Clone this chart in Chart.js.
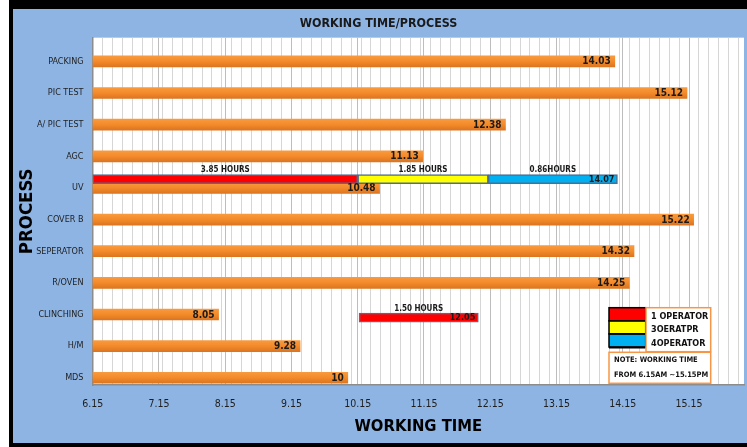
<!DOCTYPE html>
<html><head><meta charset="utf-8">
<script src="https://cdn.jsdelivr.net/npm/chart.js@4.4.1/dist/chart.umd.min.js"></script>
<style>
html,body{margin:0;padding:0;background:#fff;width:747px;height:447px;overflow:hidden}
#frame{position:absolute;left:9px;top:0px;width:738px;height:447px;background:#000}
#wrap{position:absolute;left:13px;top:9px;width:734px;height:434px;background:#8EB4E3}
</style></head><body>
<div id="frame"></div>
<div id="wrap"><canvas id="c"></canvas></div>
<script>
// ---------- data ----------
const categories = ['PACKING','PIC TEST','A/ PIC TEST','AGC','UV','COVER B','SEPERATOR','R/OVEN','CLINCHING','H/M','MDS'];
const workTime   = [14.03, 15.12, 12.38, 11.13, 10.48, 15.22, 14.32, 14.25, 8.05, 9.28, 10];
const xTickLabels = ['6.15','7.15','8.15','9.15','10.15','11.15','12.15','13.15','14.15','15.15'];

const opsRows    = ['UV', 'CLINCHING'];
const opsRowPos  = [3.72, 8.10];               // row position (category units)
const op1Span    = [[6.15, 10.15], [10.17, 11.97]];
const op3Span    = [[10.15, 12.12], null];
const op4Span    = [[12.12, 14.07], null];
const op1Hours   = ['3.85 HOURS', '1.50 HOURS'];
const op3Hours   = ['1.85 HOURS', null];
const op4Hours   = ['0.86HOURS', null];
const opsEndLabel = ['14.07', '12.05'];
const opLegend   = ['1 OPERATOR', '3OERATPR', '4OPERATOR'];
const noteLines  = ['NOTE: WORKING TIME', 'FROM 6.15AM ~15.15PM'];

const xMin = 6.15, xMax = 15.98, minorStep = 0.15;

// ---------- helpers ----------
const FONT = "'Liberation Sans Narrow','Arial Narrow','DejaVu Sans Condensed','Liberation Sans',sans-serif";
function spanData(spans, hours){
  const d = [];
  spans.forEach((s,k)=>{ if(s) d.push({x:s, y:opsRowPos[k], hours:hours[k], row:k}); });
  return d;
}
const majorTicks = xTickLabels.map(parseFloat);
const minorTicks = [];
for (let k = 0; xMin + k*minorStep <= xMax + 1e-9; k++) minorTicks.push(Math.round((xMin + k*minorStep)*1000)/1000);

const decor = {
  id: 'decor',
  beforeDraw(chart){
    const {ctx, chartArea:a} = chart;
    ctx.save(); ctx.fillStyle = '#ffffff';
    ctx.fillRect(a.left, a.top, a.right-a.left, a.bottom-a.top);
    ctx.restore();
  },
  beforeDatasetsDraw(chart){
    const ctx = chart.ctx;
    chart.getDatasetMeta(0).data.forEach(el=>{
      const t = el.y - el.height/2, b = el.y + el.height/2;
      const g = ctx.createLinearGradient(0, t, 0, b);
      g.addColorStop(0, '#F99A3E'); g.addColorStop(0.5, '#F38A2A'); g.addColorStop(1, '#DB7520');
      el.options = Object.assign({}, el.options, {backgroundColor: g});
    });
  },
  afterDatasetsDraw(chart){
    const ctx = chart.ctx, a = chart.chartArea;
    ctx.save();
    ctx.textBaseline = 'middle';
    // value labels on orange bars
    ctx.fillStyle = '#1a1a1a'; ctx.textAlign = 'right';
    ctx.font = `bold 10px ${FONT}`;
    chart.getDatasetMeta(0).data.forEach((el,i)=>{ ctx.fillText(String(workTime[i]), el.x - 4, el.y + 0.5); });
    // hours labels + end labels on operator bars
    const rowEnd = {};
    [1,2,3].forEach(di=>{
      const ds = chart.data.datasets[di];
      chart.getDatasetMeta(di).data.forEach((el,i)=>{
        const raw = ds.data[i];
        if (raw.hours){
          ctx.font = `bold 8px ${FONT}`; ctx.textAlign = 'center';
          ctx.fillText(raw.hours, (el.x + el.base)/2, el.y - el.height/2 - 4.5);
        }
        if (!rowEnd[raw.row] || el.x > rowEnd[raw.row].x) rowEnd[raw.row] = el;
      });
    });
    ctx.font = `bold 9px ${FONT}`; ctx.textAlign = 'right';
    Object.keys(rowEnd).forEach(k=>{ const el = rowEnd[k]; ctx.fillText(opsEndLabel[k], el.x - 3, el.y + 0.5); });

    // custom legend
    const R = a.right - 33.3, top = a.bottom - 77.3, sx = R - 101.7, sw = 36.7, rh = 13.1;
    for (let j = 0; j < 3; j++){
      ctx.fillStyle = chart.data.datasets[j+1].backgroundColor;
      ctx.fillRect(sx, top + j*rh, sw, rh);
    }
    ctx.strokeStyle = '#000'; ctx.lineWidth = 1.5;
    for (let j = 0; j < 3; j++) ctx.strokeRect(sx, top + j*rh, sw, rh);
    ctx.lineWidth = 2; ctx.beginPath(); ctx.moveTo(sx, top + 3*rh + 0.5); ctx.lineTo(sx + sw, top + 3*rh + 0.5); ctx.stroke();
    // label box
    ctx.fillStyle = '#fff'; ctx.strokeStyle = '#F79646'; ctx.lineWidth = 1.5;
    const bx = sx + sw + 0.3;
    ctx.fillRect(bx, top, R - bx, 44); ctx.strokeRect(bx, top, R - bx, 44);
    ctx.fillStyle = '#111'; ctx.textAlign = 'left'; ctx.font = `bold 9px ${FONT}`;
    opLegend.forEach((t,j)=> ctx.fillText(t, bx + 5, top + 9 + j*13.3));
    // note box
    const ny = top + 44.6;
    ctx.fillStyle = '#fff';
    ctx.fillRect(sx, ny, R - sx, 31); ctx.strokeRect(sx, ny, R - sx, 31);
    ctx.fillStyle = '#111'; ctx.font = `bold 7.5px ${FONT}`;
    noteLines.forEach((t,j)=> ctx.fillText(t, sx + 5, ny + 7.5 + j*15));
    ctx.restore();
  }
};

Chart.defaults.color = '#222';
new Chart(document.getElementById('c'), {
  type: 'bar',
  data: {
    datasets: [
      { label: 'WORKING TIME', data: categories.map((c,i)=>({x: workTime[i], y: i})),
        backgroundColor: '#F38A2A', borderWidth: 0, barThickness: 11, grouped: false, order: 1 },
      { label: opLegend[0], data: spanData(op1Span, op1Hours), backgroundColor: '#FF0000',
        borderColor: '#4F6D92', borderWidth: 1.5, borderSkipped: false, barThickness: 9, grouped: false },
      { label: opLegend[1], data: spanData(op3Span, op3Hours), backgroundColor: '#FFFF00',
        borderColor: '#4F6D92', borderWidth: 1.5, borderSkipped: false, barThickness: 9, grouped: false },
      { label: opLegend[2], data: spanData(op4Span, op4Hours), backgroundColor: '#00B0F0',
        borderColor: '#4F6D92', borderWidth: 1.5, borderSkipped: false, barThickness: 9, grouped: false }
    ]
  },
  options: {
    indexAxis: 'y',
    responsive: true, maintainAspectRatio: false, animation: false,
    layout: { padding: { left: 0, top: 0, right: 3, bottom: 0 } },
    plugins: {
      legend: { display: false }, tooltip: { enabled: false },
      title: { display: true, text: 'WORKING TIME/PROCESS', color: '#1a1a1a',
        font: { family: FONT, size: 12.4, weight: 'bold' }, padding: { top: 7, bottom: 6.8 } }
    },
    scales: {
      y: {
        type: 'linear', position: 'left', reverse: true, min: -0.75, max: 10.23, offset: false,
        afterBuildTicks: s => { s.ticks = categories.map((_,i)=>({value: i})); },
        afterFit: s => { s.width = 79.7; },
        ticks: { autoSkip: false, padding: 9.2, font: { family: FONT, size: 9 }, color: '#1e1e1e',
                 callback: (v) => categories[v] },
        grid: { display: false, drawTicks: false },
        border: { display: true, color: '#8c8c8c', width: 1.5 },
        title: { display: true, text: 'PROCESS', color: '#000',
                 font: { family: FONT, size: 18.5, weight: 'bold' }, padding: { top: 2.9, bottom: 0 } }
      },
      xMinor: {
        type: 'linear', position: 'bottom', min: xMin, max: xMax, offset: false,
        afterBuildTicks: s => { s.ticks = minorTicks.map(v=>({value: v})); },
        afterFit: s => { s.height = 0; },
        ticks: { display: false },
        grid: { color: '#D6D6D6', lineWidth: 1, drawTicks: false, z: -2 },
        border: { display: false }
      },
      x: {
        type: 'linear', position: 'bottom', min: xMin, max: xMax, offset: false,
        afterBuildTicks: s => { s.ticks = majorTicks.map(v=>({value: v})); },
        afterFit: s => { s.height = 58; },
        ticks: { autoSkip: false, maxRotation: 0, padding: 13.2, font: { family: FONT, size: 10.5 }, color: '#1e1e1e',
                 callback: (v, i) => xTickLabels[i] },
        grid: { color: '#BDBDBD', lineWidth: 1, drawTicks: false },
        border: { display: true, color: '#8c8c8c', width: 1.5 },
        title: { display: true, text: 'WORKING TIME', color: '#000',
                 font: { family: FONT, size: 16.5, weight: 'bold' }, padding: { top: 0, bottom: 6.1 } }
      }
    }
  },
  plugins: [decor]
});
</script>
</body></html>
